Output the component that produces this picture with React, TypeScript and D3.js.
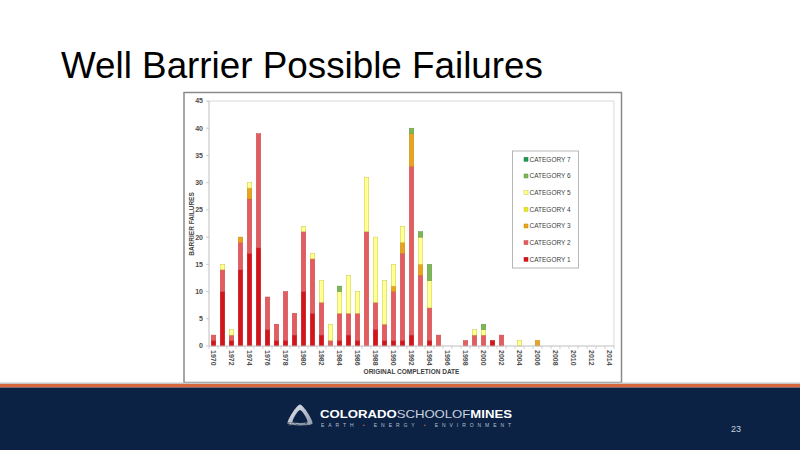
import React from "react";
import * as d3 from "d3";

const years: string[] = d3.range(1970, 2015).map(String);
const tickYears: string[] = years.filter((y) => +y % 2 === 0);
const yTicks: number[] = [0, 5, 10, 15, 20, 25, 30, 35, 40, 45];

//                      1970 ........................................................................ 2014
const cat1: number[] = [1, 10, 1, 14, 17, 18, 3, 1, 1, 2, 10, 6, 2, 0, 1, 2, 1, 0, 3, 1, 1, 1, 2, 0, 1, 0, 0, 0, 0, 0, 0, 1, 0, 0, 0, 0, 0, 0, 0, 0, 0, 0, 0, 0, 0];
const cat2: number[] = [1, 4, 1, 5, 10, 21, 6, 3, 9, 4, 11, 10, 6, 1, 5, 4, 5, 21, 5, 3, 9, 16, 31, 13, 6, 2, 0, 0, 1, 2, 2, 0, 2, 0, 0, 0, 0, 0, 0, 0, 0, 0, 0, 0, 0];
const cat3: number[] = [0, 0, 0, 1, 2, 0, 0, 0, 0, 0, 0, 0, 0, 0, 0, 0, 0, 0, 0, 0, 1, 2, 6, 2, 0, 0, 0, 0, 0, 0, 0, 0, 0, 0, 0, 0, 1, 0, 0, 0, 0, 0, 0, 0, 0];
const cat4: number[] = [0, 0, 0, 0, 0, 0, 0, 0, 0, 0, 0, 0, 0, 0, 0, 0, 0, 0, 0, 0, 0, 0, 0, 0, 0, 0, 0, 0, 0, 0, 0, 0, 0, 0, 0, 0, 0, 0, 0, 0, 0, 0, 0, 0, 0];
const cat5: number[] = [0, 1, 1, 0, 1, 0, 0, 0, 0, 0, 1, 1, 4, 3, 4, 7, 4, 10, 12, 8, 4, 3, 0, 5, 5, 0, 0, 0, 0, 1, 1, 0, 0, 0, 1, 0, 0, 0, 0, 0, 0, 0, 0, 0, 0];
const cat6: number[] = [0, 0, 0, 0, 0, 0, 0, 0, 0, 0, 0, 0, 0, 0, 1, 0, 0, 0, 0, 0, 0, 0, 1, 1, 3, 0, 0, 0, 0, 0, 1, 0, 0, 0, 0, 0, 0, 0, 0, 0, 0, 0, 0, 0, 0];
const cat7: number[] = [0, 0, 0, 0, 0, 0, 0, 0, 0, 0, 0, 0, 0, 0, 0, 0, 0, 0, 0, 0, 0, 0, 0, 0, 0, 0, 0, 0, 0, 0, 0, 0, 0, 0, 0, 0, 0, 0, 0, 0, 0, 0, 0, 0, 0];

const seriesNames: string[] = ["CATEGORY 1", "CATEGORY 2", "CATEGORY 3", "CATEGORY 4", "CATEGORY 5", "CATEGORY 6", "CATEGORY 7"];
const seriesFill: string[] = ["#D4141A", "#E35D60", "#E8A41C", "#E8E62A", "#FFFF94", "#7DB657", "#1F9A55"];
const seriesStroke: string[] = ["#B81015", "#C9494C", "#C98A10", "#C9C720", "#CACA40", "#62983F", "#177E44"];

export default function App() {
  const seriesValues = [cat1, cat2, cat3, cat4, cat5, cat6, cat7];
  const table = years.map((yr, i) => {
    const row: any = { year: yr };
    seriesNames.forEach((n, k) => (row[n] = seriesValues[k][i]));
    return row;
  });
  const stacked = d3.stack<any>().keys(seriesNames)(table);

  const left = 209, right = 614, top = 101, bottom = 346;
  const x = d3.scaleBand<string>().domain(years).range([left, right]).paddingInner(0.5).paddingOuter(0.25);
  const y = d3.scaleLinear().domain([0, 45]).range([bottom, top]);
  const step = x.step();

  const chartFont = "'Liberation Sans', Arial, sans-serif";

  return (
    <div style={{ position: "fixed", left: 0, top: 0, width: 800, height: 450, background: "#fff" }}>
      <svg width={800} height={450} style={{ display: "block" }}>
        <rect x={0} y={0} width={800} height={450} fill="#ffffff" />
        {/* Title */}
        <text x={61} y={77.5} fontFamily="'Liberation Sans', Arial, sans-serif" fontSize={36.8} fill="#000">
          Well Barrier Possible Failures
        </text>

        {/* Chart frame */}
        <rect x={184} y={92.5} width={437.5} height={290} fill="#fff" stroke="#8a8a8a" strokeWidth={1.5} />

        {/* plot border */}
        <line x1={left} x2={right} y1={top} y2={top} stroke="#d9d9d9" strokeWidth={1} />
        <line x1={right} x2={right} y1={top} y2={bottom} stroke="#d9d9d9" strokeWidth={1} />

        {/* bars */}
        {stacked.map((s, k) => (
          <g key={s.key}>
            {s.map((d: any, i: number) =>
              d[1] - d[0] > 0 ? (
                <rect
                  key={i}
                  x={x(d.data.year)!}
                  y={y(d[1])}
                  width={x.bandwidth()}
                  height={y(d[0]) - y(d[1])}
                  fill={seriesFill[k]}
                  stroke={seriesStroke[k]}
                  strokeWidth={0.5}
                />
              ) : null
            )}
          </g>
        ))}

        {/* y axis */}
        <line x1={left} x2={left} y1={top} y2={bottom} stroke="#bfbfbf" strokeWidth={1} />
        {yTicks.map((t) => (
          <g key={t}>
            <line x1={left - 3} x2={left} y1={y(t)} y2={y(t)} stroke="#bfbfbf" strokeWidth={0.8} />
            <text x={203} y={y(t)} dy="0.35em" textAnchor="end" fontFamily={chartFont} fontWeight="bold" fontSize={7} fill="#4d4d4d">
              {t}
            </text>
          </g>
        ))}
        <text
          x={192}
          y={224}
          transform="rotate(-90, 192, 224)"
          textAnchor="middle"
          dy="0.35em"
          fontFamily={chartFont}
          fontWeight="bold"
          fontSize={6.5}
          fill="#404040"
        >
          BARRIER FAILURES
        </text>

        {/* x axis */}
        <line x1={left} x2={right} y1={bottom} y2={bottom} stroke="#bfbfbf" strokeWidth={1} />
        {years.map((yr) => (
          <line key={yr} x1={x(yr)! - (step - x.bandwidth()) / 2} x2={x(yr)! - (step - x.bandwidth()) / 2} y1={bottom} y2={bottom + 3} stroke="#bfbfbf" strokeWidth={0.7} />
        ))}
        <line x1={right} x2={right} y1={bottom} y2={bottom + 3} stroke="#bfbfbf" strokeWidth={0.7} />
        {tickYears.map((yr) => {
          const cx = x(yr)! + x.bandwidth() / 2;
          return (
            <text
              key={yr}
              x={cx}
              y={350}
              transform={`rotate(90, ${cx}, 350)`}
              textAnchor="start"
              dy="0.35em"
              fontFamily={chartFont}
              fontWeight="bold"
              fontSize={7}
              fill="#4d4d4d"
            >
              {yr}
            </text>
          );
        })}
        <text x={411.5} y={374} textAnchor="middle" fontFamily={chartFont} fontWeight="bold" fontSize={6.5} fill="#404040">
          ORIGINAL COMPLETION DATE
        </text>

        {/* legend */}
        <rect x={512.5} y={151} width={66} height={117} fill="#fff" stroke="#a6a6a6" strokeWidth={0.8} />
        {seriesNames
          .map((n, k) => ({ n, k }))
          .reverse()
          .map(({ n, k }, j) => {
            const ly = 159.3 + j * 16.67;
            return (
              <g key={n}>
                <rect x={524} y={ly - 2} width={4} height={4} fill={seriesFill[k]} stroke={seriesStroke[k]} strokeWidth={0.5} />
                <text x={529.5} y={ly} dy="0.35em" fontFamily={chartFont} fontSize={6.5} fill="#404040">
                  {n}
                </text>
              </g>
            );
          })}

        {/* footer */}
        <rect x={0} y={382.5} width={800} height={1.5} fill="#c8c8c8" />
        <rect x={0} y={384} width={800} height={3.5} fill="#D9663F" />
        <rect x={0} y={387.5} width={800} height={62.5} fill="#0B2245" />
        <defs>
          <linearGradient id="logoGrad" x1="0" y1="0" x2="1" y2="1">
            <stop offset="0" stopColor="#e8ecf2" />
            <stop offset="1" stopColor="#8d99ab" />
          </linearGradient>
        </defs>
        <path
          d="M300,404.5 C303,404.5 313,420 312.5,423.5 C312,426 289,426 287.5,423.5 C287,420 297,404.5 300,404.5 Z"
          fill="url(#logoGrad)"
        />
        <path d="M300,410 C302,410 308,420 307.5,422 C306,423.5 294,423.5 292.5,422 C292,420 298,410 300,410 Z" fill="#0B2245" />
        <text x={320} y={418} fontFamily="'Liberation Sans', Arial, sans-serif" fontSize={11.5} fill="#ffffff" textLength={192} lengthAdjust="spacingAndGlyphs">
          <tspan fontWeight="bold">COLORADO</tspan>
          <tspan fill="#c9d1de">SCHOOLOF</tspan>
          <tspan fontWeight="bold">MINES</tspan>
        </text>
        <text x={321} y={426.5} fontFamily="'Liberation Sans', Arial, sans-serif" fontSize={5} fill="#b8c0cc" textLength={190} lengthAdjust="spacing">
          <tspan>EARTH </tspan>
          <tspan fill="#D9663F">•</tspan>
          <tspan> ENERGY </tspan>
          <tspan fill="#D9663F">•</tspan>
          <tspan> ENVIRONMENT</tspan>
        </text>
        <text x={287} y={426} fontFamily="'Liberation Sans', Arial, sans-serif" fontSize={6} fill="#3a4658">
          SPE-18
        </text>
        <text x={736} y={429} textAnchor="middle" dy="0.35em" fontFamily="'Liberation Sans', Arial, sans-serif" fontSize={9} fill="#c9d1de">
          23
        </text>
      </svg>
    </div>
  );
}
